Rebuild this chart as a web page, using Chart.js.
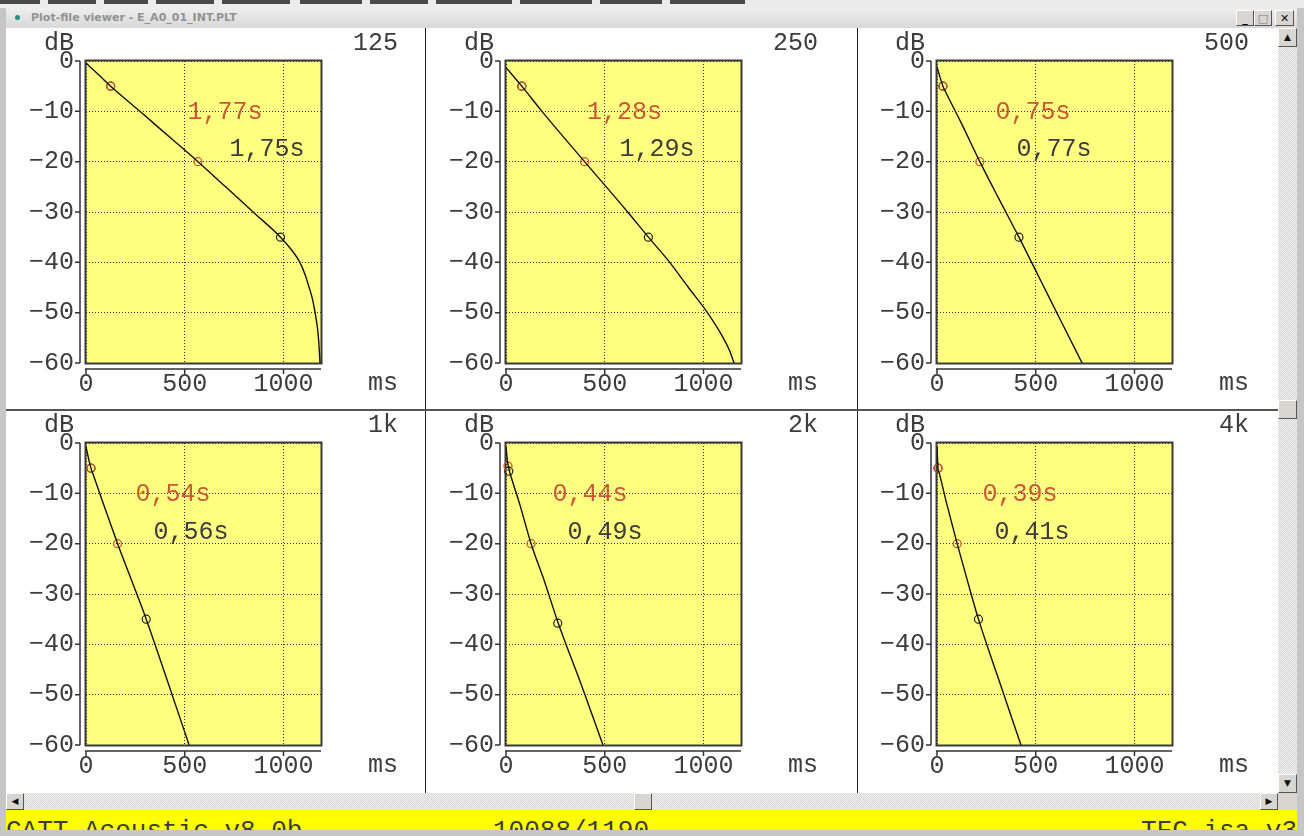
<!DOCTYPE html>
<html>
<head>
<meta charset="utf-8">
<title>Plot-file viewer - E_A0_01_INT.PLT</title>
<script src="https://cdn.jsdelivr.net/npm/chart.js@4.4.0/dist/chart.umd.min.js"></script>
<style>
body { margin: 0; width: 1304px; height: 836px; background: #c6c6c6; position: relative; overflow: hidden; }
.abs { position: absolute; }
#top { left: 0; top: 0; width: 1304px; height: 8px; background: #ececec; }
.dash { position: absolute; top: 0; height: 4px; background: #4a4a4a; }
#title { left: 6px; top: 8px; width: 1291px; height: 20px; background: linear-gradient(#eeeeee, #d8d8d8);
  font: bold 11px "DejaVu Sans", sans-serif; color: #929292; line-height: 20px; }
#title .dot { position: absolute; left: 9px; top: 7px; width: 5px; height: 5px; border-radius: 3px; background: #2a8c7a; }
#title .txt { position: absolute; left: 25px; top: 0; }
.btn { position: absolute; box-sizing: border-box; background: #d8d6d0; border: 1px solid; border-color: #fff #555 #555 #fff;
  font: bold 11px "DejaVu Sans", sans-serif; color: #111; text-align: center; line-height: 15px; }
#client { left: 6px; top: 28px; width: 1272px; height: 765px; background: #fff; }
.track { position: absolute; background: repeating-conic-gradient(#d6d6d6 0 25%, #f2f2f2 0 50%) 0 0/2px 2px; }
#status { left: 6px; top: 810px; width: 1291px; height: 20px; background: #ffff00; overflow: hidden; }
#status span { position: absolute; top: 8px; font: 26px "Liberation Mono", monospace; line-height: 26px; color: #3c3c3c; white-space: pre; }
.vsep { position: absolute; top: 28px; width: 1px; height: 765px; background: #222; }
.hsep { position: absolute; left: 6px; width: 1272px; height: 2px; background: #555; }
canvas { position: absolute; }
</style>
</head>
<body>
<div id="top" class="abs"></div>
<div id="title" class="abs"><div class="dot"></div><div class="txt">Plot-file viewer - E_A0_01_INT.PLT</div>
  <div class="btn" style="left:1230px;top:2px;width:18px;height:16px;">_</div>
  <div class="btn" style="left:1248px;top:2px;width:18px;height:16px;font-weight:normal;color:#777">□</div>
  <div class="btn" style="left:1269px;top:2px;width:19px;height:16px;">✕</div>
</div>
<div id="client" class="abs"></div>
<div id="panels"></div>
<div class="track" style="left:1278px;top:28px;width:19px;height:765px;"></div>
<div class="btn" style="left:1278px;top:28px;width:19px;height:19px;font-size:9px;line-height:17px">▲</div>
<div class="btn" style="left:1278px;top:400px;width:19px;height:19px;"></div>
<div class="btn" style="left:1278px;top:774px;width:19px;height:19px;font-size:9px;line-height:17px">▼</div>
<div class="track" style="left:6px;top:793px;width:1272px;height:17px;"></div>
<div class="btn" style="left:6px;top:793px;width:18px;height:17px;font-size:9px;line-height:15px">◀</div>
<div class="btn" style="left:634px;top:793px;width:18px;height:17px;"></div>
<div class="btn" style="left:1260px;top:793px;width:18px;height:17px;font-size:9px;line-height:15px">▶</div>
<div class="abs" style="left:1278px;top:793px;width:19px;height:17px;background:#d8d6d0"></div>
<div id="status" class="abs">
  <span style="left:0">CATT-Acoustic v8.0b</span>
  <span style="left:487px">10088/1190</span>
  <span style="left:1135px">TFC isa v3</span>
</div>
<script>
// octave bands and reverberation times shown in each panel
const bands = ['125', '250', '500', '1k', '2k', '4k'];
const t15Text = ['1,77s', '1,28s', '0,75s', '0,54s', '0,44s', '0,39s'];
const t30Text = ['1,75s', '1,29s', '0,77s', '0,56s', '0,49s', '0,41s'];

const xMax = 1190;
const xTicks = [0, 500, 1000];
const xTickLabels = ['0', '500', '1000'];
const yTicks = [-60, -50, -40, -30, -20, -10, 0];
const yTickLabels = ['−60', '−50', '−40', '−30', '−20', '−10', '0'];

// decay curves [ms, dB]
const decay125 = [[0, -0.4], [60, -2.6], [125, -5], [273, -10], [420, -15], [567, -20], [707, -25], [846, -30],
  [985, -35], [1040, -37.5], [1083, -40], [1110, -42.5], [1130, -45], [1148, -47.5], [1160, -50], [1172, -53],
  [1179, -56], [1185, -60]];
const decay250 = [[0, -1.3], [80, -5], [182, -10], [398, -20], [616, -30], [721, -35], [829, -40], [924, -45],
  [1020, -50], [1100, -55], [1132, -57.5], [1155, -60]];
const decay500 = [[0, -1.2], [30, -5], [42, -6], [125, -12.5], [217, -20], [315, -27.5], [415, -35], [530, -44],
  [632, -52], [735, -60]];
const decay1k = [[0, -0.8], [25, -5], [35, -6.1], [92, -12.5], [160, -20], [233, -27.5], [305, -35], [410, -47],
  [522, -60]];
const decay2k = [[0, -0.8], [8, -3.8], [17, -5.5], [25, -6.6], [72, -12.5], [127, -20], [195, -27.5], [262, -35.5],
  [381, -48], [491, -60]];
const decay4k = [[0, -0.8], [5, -5], [10, -5.8], [52, -12.5], [102, -20], [155, -27.5], [210, -35], [317, -47.5],
  [425, -60]];
const decays = [decay125, decay250, decay500, decay1k, decay2k, decay4k];

// evaluation points: red = T15 range, black = T30 range
const redMarks = [[[125, -5], [567, -20]], [[80, -5], [398, -20]], [[30, -5], [217, -20]],
  [[25, -5], [160, -20]], [[10, -4.6], [127, -20]], [[5, -5], [102, -20]]];
const blackMarks = [[[125, -5], [985, -35]], [[80, -5], [721, -35]], [[30, -5], [415, -35]],
  [[25, -5], [305, -35]], [[14, -5.6], [262, -35.8]], [[5, -5], [210, -35]]];

// where the T labels sit, in [ms, dB]
const t15At = [[704, -10.3], [600, -10.3], [486, -10.3], [440, -10.3], [425, -10.3], [420, -10.3]];
const t30At = [[916, -17.6], [765, -17.6], [592, -17.6], [532, -17.8], [501, -17.8], [481, -17.8]];

const cols = [{x: 6, w: 419, inset: 80}, {x: 425, w: 432, inset: 81}, {x: 857, w: 421, inset: 80}];
const rows = [{y: 28, h: 382}, {y: 410, h: 383}];
const BOX_W = 235, BOX_TOP = 33, BOX_BOTTOM = 335;
const FONT = '25px "Liberation Mono", monospace';
const INK = '#3c3c3c', RED = '#c8583a';

const decor = {
    id: 'decor',
    beforeDraw(chart) {
        const {ctx, chartArea: a} = chart;
        ctx.save();
        ctx.fillStyle = '#ffff80';
        ctx.fillRect(a.left, a.top, a.right - a.left, a.bottom - a.top);
        ctx.restore();
    },
    beforeDatasetsDraw(chart) {
        const {ctx, chartArea: a} = chart;
        ctx.save();
        ctx.strokeStyle = '#3a3a3a';
        ctx.lineWidth = 2;
        ctx.strokeRect(a.left - 0.5, a.top - 0.5, a.right - a.left + 1, a.bottom - a.top + 1);
        ctx.restore();
    },
    afterDraw(chart, args, o) {
        const {ctx, chartArea: a, scales: {x, y}} = chart;
        const i = o.index;
        ctx.save();
        // detached axis lines with tick marks
        ctx.strokeStyle = '#333';
        ctx.lineWidth = 1.5;
        ctx.beginPath();
        ctx.moveTo(a.left - 6, y.getPixelForValue(0));
        ctx.lineTo(a.left - 6, y.getPixelForValue(-60));
        yTicks.forEach(v => {
            const py = y.getPixelForValue(v);
            ctx.moveTo(a.left - 11, py);
            ctx.lineTo(a.left - 6, py);
        });
        ctx.moveTo(x.getPixelForValue(0) - 1, a.bottom + 6);
        ctx.lineTo(a.right, a.bottom + 6);
        xTicks.forEach(v => {
            const px = x.getPixelForValue(v);
            ctx.moveTo(px, a.bottom + 6);
            ctx.lineTo(px, a.bottom + 11);
        });
        ctx.stroke();

        ctx.font = FONT;
        ctx.textBaseline = 'middle';
        ctx.fillStyle = INK;
        ctx.textAlign = 'left';
        ctx.fillText('dB', a.left - 42, a.top - 18);
        ctx.textAlign = 'right';
        ctx.fillText(bands[i], a.right + 77, a.top - 18);
        ctx.fillText('ms', a.right + 77, a.bottom + 20);

        ctx.textAlign = 'center';
        ctx.fillStyle = RED;
        ctx.fillText(t15Text[i], x.getPixelForValue(t15At[i][0]), y.getPixelForValue(t15At[i][1]));
        ctx.fillStyle = INK;
        ctx.fillText(t30Text[i], x.getPixelForValue(t30At[i][0]), y.getPixelForValue(t30At[i][1]));
        ctx.restore();
    }
};

const holder = document.getElementById('panels');

bands.forEach((band, i) => {
    const col = cols[i % 3], row = rows[Math.floor(i / 3)];
    const cv = document.createElement('canvas');
    cv.width = col.w;
    cv.height = row.h;
    cv.style.left = col.x + 'px';
    cv.style.top = row.y + 'px';
    holder.appendChild(cv);

    const pts = arr => arr.map(p => ({x: p[0], y: p[1]}));

    new Chart(cv, {
        type: 'scatter',
        data: {
            datasets: [
                {
                    type: 'line',
                    data: pts(decays[i]),
                    borderColor: '#111',
                    borderWidth: 1.4,
                    pointRadius: 0,
                    cubicInterpolationMode: 'monotone',
                    fill: false
                },
                {
                    data: pts(redMarks[i]),
                    pointRadius: 4,
                    pointBorderWidth: 1.3,
                    borderColor: RED,
                    backgroundColor: 'transparent',
                    clip: false
                },
                {
                    data: pts(blackMarks[i]),
                    pointRadius: 4,
                    pointBorderWidth: 1.2,
                    borderColor: '#222',
                    backgroundColor: 'transparent',
                    clip: false
                }
            ]
        },
        options: {
            responsive: false,
            animation: false,
            events: [],
            layout: {padding: {left: 0, top: BOX_TOP, right: col.w - col.inset - BOX_W, bottom: 0}},
            plugins: {
                legend: {display: false},
                tooltip: {enabled: false},
                decor: {index: i}
            },
            scales: {
                x: {
                    type: 'linear',
                    min: 0,
                    max: xMax,
                    afterBuildTicks: s => { s.ticks = xTicks.map(v => ({value: v})); },
                    afterFit: s => { s.height = row.h - BOX_BOTTOM; },
                    grid: {color: '#333', lineWidth: 1, drawTicks: false},
                    border: {display: false, dash: [1, 2]},
                    ticks: {
                        padding: 6,
                        color: INK,
                        font: {family: '"Liberation Mono", monospace', size: 25},
                        autoSkip: false,
                        maxRotation: 0,
                        callback: (v, k) => xTickLabels[k]
                    }
                },
                y: {
                    type: 'linear',
                    min: -60,
                    max: 0,
                    afterBuildTicks: s => { s.ticks = yTicks.map(v => ({value: v})); },
                    afterFit: s => { s.width = col.inset; },
                    grid: {color: '#333', lineWidth: 1, drawTicks: false},
                    border: {display: false, dash: [1, 2]},
                    ticks: {
                        padding: 12,
                        color: INK,
                        font: {family: '"Liberation Mono", monospace', size: 25},
                        autoSkip: false,
                        callback: (v, k) => yTickLabels[k]
                    }
                }
            }
        },
        plugins: [decor]
    });
});

// separators between the six panels
[425, 857].forEach(x => {
    const d = document.createElement('div');
    d.className = 'vsep';
    d.style.left = x + 'px';
    document.body.appendChild(d);
});
const hs = document.createElement('div');
hs.className = 'hsep';
hs.style.top = '409px';
document.body.appendChild(hs);

// strip of another window's tabs above the title bar
[[0, 40], [48, 96], [104, 148], [156, 214], [222, 290], [300, 362], [370, 428], [436, 512], [520, 592], [600, 662], [670, 745]]
    .forEach(([a, b]) => {
        const d = document.createElement('div');
        d.className = 'dash';
        d.style.left = a + 'px';
        d.style.width = (b - a) + 'px';
        document.getElementById('top').appendChild(d);
    });
</script>
</body>
</html>
